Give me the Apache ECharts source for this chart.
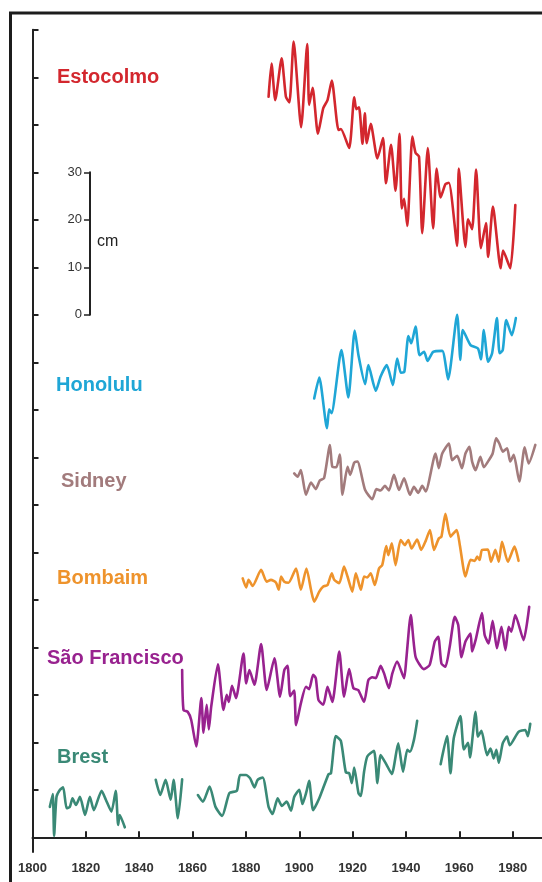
<!DOCTYPE html>
<html>
<head>
<meta charset="utf-8">
<script src="https://cdn.jsdelivr.net/npm/echarts@6/dist/echarts.min.js"></script>
<style>
html,body{margin:0;padding:0;background:#fff;}
#chart{width:542px;height:882px;}
</style>
</head>
<body>
<div id="chart"></div>
<script>
// Year tick labels on the bottom axis
const yearTicks = [1800, 1820, 1840, 1860, 1880, 1900, 1920, 1940, 1960, 1980];
// Vertical ticks (cm, stacked-offset scale) and scale bar ticks
const levelTicks = [0,10,20,30,40,50,60,70,80,90,100,110,120,130,140,150,160,170];
const scaleTicks = [0, 10, 20, 30];

// Station names
const stations = ['Estocolmo', 'Honolulu', 'Sidney', 'Bombaim', 'São Francisco', 'Brest'];

// Series values: [year, level (cm, offset per station)]
const estocolmo = [[1888.5,155.9],[1889.6,162.9],[1891.0,155.2],[1893.4,164.0],[1895.0,155.9],[1896.3,154.7],[1897.9,167.5],[1900.7,149.5],[1903.0,167.0],[1903.7,154.2],[1905.0,157.8],[1907.0,148.1],[1909.0,153.5],[1910.6,155.2],[1912.2,159.3],[1914.7,148.9],[1915.6,149.1],[1918.7,145.1],[1920.6,155.8],[1921.4,153.3],[1922.4,153.7],[1923.7,146.0],[1924.6,152.4],[1925.3,146.1],[1926.8,150.2],[1929.3,142.9],[1931.4,147.2],[1932.5,137.7],[1934.4,145.8],[1936.1,136.1],[1937.6,148.1],[1938.4,132.4],[1939.3,134.4],[1940.5,128.7],[1942.4,147.5],[1943.6,144.1],[1944.9,143.3],[1946.1,127.2],[1948.2,145.1],[1950.2,128.2],[1951.5,140.8],[1953.0,134.7],[1954.8,137.5],[1956.1,137.8],[1959.2,124.5],[1959.8,140.8],[1962.3,124.3],[1963.3,130.1],[1964.8,128.0],[1966.3,140.6],[1968.1,124.0],[1970.0,129.3],[1970.8,122.2],[1972.6,132.8],[1975.5,119.8],[1976.4,123.5],[1979.1,119.8],[1981.0,133.1]];

const honolulu = [[1905.6,92.4],[1907.5,96.8],[1910.4,86.1],[1911.2,90.1],[1912.1,89.3],[1915.8,102.6],[1918.4,92.6],[1920.8,106.7],[1922.2,101.5],[1924.7,95.4],[1925.9,99.4],[1928.7,94.0],[1930.5,97.0],[1932.8,99.4],[1935.1,95.2],[1936.7,100.8],[1938.1,97.8],[1939.4,98.0],[1940.9,105.5],[1942.0,104.0],[1943.6,107.5],[1945.1,101.5],[1946.8,102.2],[1948.1,100.3],[1950.2,102.2],[1953.6,102.4],[1955.8,96.4],[1959.2,110.0],[1960.4,100.5],[1961.3,106.8],[1964.2,103.6],[1967.0,102.9],[1968.1,100.6],[1969.2,106.8],[1970.8,100.1],[1972.3,101.9],[1974.1,109.3],[1975.1,101.9],[1976.3,102.6],[1977.6,108.9],[1979.7,105.7],[1981.2,109.3]];

const sidney = [[1898.1,76.6],[1899.4,75.9],[1900.6,77.3],[1902.5,72.1],[1904.4,74.7],[1906.2,73.3],[1907.7,75.1],[1909.3,75.6],[1911.5,82.6],[1912.4,78.0],[1913.9,77.9],[1915.2,80.6],[1916.2,72.1],[1918.1,78.0],[1919.1,76.3],[1920.6,78.9],[1921.8,79.1],[1924.7,73.1],[1927.4,71.2],[1928.9,73.3],[1930.5,73.0],[1932.1,74.0],[1933.6,73.0],[1935.5,76.3],[1937.4,73.1],[1939.3,75.6],[1941.5,72.1],[1943.0,73.8],[1944.6,72.5],[1946.1,74.0],[1947.4,72.8],[1951.1,80.8],[1952.3,77.7],[1953.6,80.8],[1956.1,82.9],[1957.3,79.4],[1959.2,80.3],[1961.0,77.7],[1962.3,80.8],[1963.8,82.2],[1964.8,79.1],[1966.1,77.3],[1967.9,80.1],[1969.2,77.9],[1971.3,79.6],[1972.5,80.8],[1973.8,84.0],[1975.0,82.9],[1976.3,81.2],[1977.9,81.9],[1979.1,79.1],[1980.4,80.5],[1982.5,74.9],[1984.5,82.1],[1986.0,78.7],[1988.5,82.6]];

const bombaim = [[1878.8,54.5],[1880.1,52.6],[1881.0,54.2],[1882.5,52.9],[1885.7,56.3],[1887.8,53.8],[1889.4,54.2],[1891.3,53.6],[1892.3,52.1],[1893.2,54.9],[1894.4,53.8],[1896.0,53.6],[1898.8,56.6],[1900.6,52.1],[1902.7,56.6],[1904.4,52.1],[1905.6,49.6],[1907.5,51.7],[1909.0,52.8],[1910.6,53.1],[1912.2,55.6],[1913.1,54.2],[1915.0,53.5],[1916.8,57.0],[1918.1,54.9],[1919.9,51.7],[1921.2,55.6],[1923.1,52.1],[1924.3,54.9],[1925.5,54.7],[1926.8,55.6],[1928.3,53.1],[1929.9,56.6],[1931.1,57.3],[1932.6,61.3],[1933.4,59.4],[1934.7,61.9],[1936.1,57.3],[1938.0,62.6],[1939.6,61.5],[1940.9,62.6],[1942.1,60.8],[1944.2,62.7],[1945.7,60.5],[1947.4,62.4],[1949.0,64.7],[1950.5,60.5],[1952.3,62.9],[1953.3,63.3],[1954.8,68.1],[1956.7,63.3],[1959.0,64.7],[1960.2,61.5],[1962.3,54.9],[1964.2,58.4],[1965.8,58.2],[1966.7,59.1],[1967.6,58.4],[1968.5,60.5],[1970.7,60.6],[1971.9,58.0],[1973.5,60.5],[1974.8,58.0],[1976.0,62.2],[1978.2,58.0],[1980.7,61.2],[1982.2,58.2]];

const saoFrancisco = [[1856.1,35.2],[1856.6,26.8],[1858.2,26.4],[1859.5,24.7],[1861.4,19.1],[1863.3,29.3],[1864.1,22.0],[1865.3,27.9],[1866.1,22.7],[1867.0,27.5],[1869.5,36.4],[1871.6,26.8],[1872.8,30.0],[1873.6,28.5],[1874.8,31.9],[1876.3,29.3],[1879.1,38.7],[1880.1,32.4],[1881.3,35.2],[1883.2,32.1],[1885.7,40.7],[1887.8,31.0],[1890.7,37.7],[1892.8,29.6],[1894.4,35.2],[1895.6,36.1],[1896.6,29.7],[1898.1,30.9],[1898.8,23.6],[1900.6,28.2],[1902.5,31.7],[1903.7,31.2],[1905.2,34.2],[1906.2,33.5],[1907.2,28.9],[1909.0,27.9],[1910.6,31.7],[1912.4,28.5],[1915.0,39.1],[1916.8,29.6],[1918.7,35.4],[1920.3,31.4],[1922.1,31.0],[1924.3,28.5],[1925.9,33.1],[1927.4,33.7],[1928.7,33.5],[1930.5,36.1],[1931.8,34.5],[1933.6,31.4],[1934.9,34.5],[1936.7,37.0],[1939.3,33.5],[1940.1,37.3],[1941.8,46.8],[1943.6,38.0],[1946.7,35.4],[1948.9,36.3],[1950.8,41.2],[1952.1,42.2],[1953.3,36.6],[1954.8,35.9],[1956.4,40.1],[1958.3,46.4],[1959.6,44.7],[1960.8,37.9],[1962.3,41.2],[1964.2,42.9],[1964.8,39.1],[1966.1,41.5],[1968.5,47.2],[1969.5,42.6],[1971.0,40.8],[1972.5,45.6],[1974.1,39.8],[1975.8,44.3],[1977.3,39.4],[1978.5,44.3],[1979.5,43.3],[1981.0,46.8],[1984.1,41.5],[1986.2,48.5]];

const brestA = [[1806.5,6.4],[1807.6,9.1],[1808.1,0.3],[1809.0,8.5],[1810.3,10.0],[1811.5,10.5],[1812.8,6.1],[1814.0,6.4],[1815.0,8.2],[1816.3,6.8],[1817.8,8.5],[1819.7,4.7],[1821.5,8.5],[1823.0,5.7],[1825.9,9.8],[1827.5,7.9],[1829.6,5.4],[1831.2,9.8],[1832.1,2.6],[1832.7,4.7],[1834.6,2.1]];
const brestB = [[1846.2,12.1],[1847.9,8.9],[1849.9,12.1],[1851.8,7.9],[1852.9,12.1],[1854.5,4.0],[1856.1,12.2]];
const brestC = [[1862.0,8.9],[1863.9,7.5],[1866.4,10.7],[1868.6,6.4],[1871.1,4.5],[1873.8,9.3],[1876.6,9.8],[1877.8,13.1],[1880.1,13.1],[1881.6,12.4],[1883.2,10.5],[1884.4,12.1],[1886.3,12.6],[1888.5,6.4],[1890.0,4.9],[1891.9,8.2],[1893.5,6.6],[1895.3,7.5],[1896.9,5.6],[1898.1,8.5],[1900.0,10.0],[1901.2,7.0],[1902.7,9.6],[1903.7,11.9],[1905.2,5.7],[1907.5,8.2],[1911.0,13.3],[1911.9,13.5],[1913.7,21.3],[1915.6,20.3],[1917.5,13.6],[1918.7,13.5],[1919.7,11.4],[1920.6,14.7],[1922.2,9.3],[1923.1,8.7],[1924.3,13.8],[1925.5,17.0],[1928.0,18.2],[1929.3,11.4],[1930.5,17.3],[1932.6,15.4],[1934.7,13.3],[1937.1,19.8],[1938.9,13.8],[1940.5,18.4],[1941.5,18.0],[1943.0,20.5],[1944.2,24.5]];
const brestD = [[1953.0,15.4],[1955.4,21.3],[1956.7,13.5],[1957.9,20.8],[1960.4,25.5],[1961.7,18.5],[1963.3,19.9],[1964.0,16.8],[1966.1,26.4],[1967.0,21.2],[1968.3,22.4],[1970.4,17.3],[1971.7,18.7],[1972.9,16.6],[1973.9,18.4],[1974.8,15.7],[1976.3,19.8],[1977.9,21.2],[1978.9,19.4],[1982.2,22.2],[1984.7,22.6],[1985.7,21.3],[1986.6,23.9]];

const colors = {
  'Estocolmo': '#d3272e',
  'Honolulu': '#1fa6d6',
  'Sidney': '#a27b7c',
  'Bombaim': '#ee932c',
  'São Francisco': '#98228f',
  'Brest': '#3a8976'
};

const chart = echarts.init(document.getElementById('chart'), null, {renderer: 'canvas'});

function lineSeries(name, data) {
  return {
    name: name, type: 'line', data: data, xAxisIndex: 0, yAxisIndex: 0,
    showSymbol: false, symbol: 'none', smooth: 0.2, animation: false,
    lineStyle: {color: colors[name], width: 2.6, join: 'round', cap: 'round'},
    itemStyle: {color: colors[name]}
  };
}

const series = [
  lineSeries('Estocolmo', estocolmo),
  lineSeries('Honolulu', honolulu),
  lineSeries('Sidney', sidney),
  lineSeries('Bombaim', bombaim),
  lineSeries('São Francisco', saoFrancisco),
  lineSeries('Brest', brestA),
  lineSeries('Brest', brestB),
  lineSeries('Brest', brestC),
  lineSeries('Brest', brestD)
];

const labelPos = {
  'Estocolmo': [57, 77],
  'Honolulu': [56, 385],
  'Sidney': [61, 481],
  'Bombaim': [57, 578],
  'São Francisco': [47, 658],
  'Brest': [57, 757]
};

const graphics = [
  {type: 'rect', silent: true, z: 100,
   shape: {x: 10.5, y: 13, width: 800, height: 1000},
   style: {fill: 'none', stroke: '#1c1c1c', lineWidth: 3}},
  {type: 'text', x: 97, y: 242, z: 100,
   style: {text: 'cm', font: '16px "Liberation Sans", Arial, sans-serif', fill: '#222', verticalAlign: 'middle'}}
];
stations.forEach(function (s) {
  graphics.push({type: 'text', x: labelPos[s][0], y: labelPos[s][1], z: 100,
    style: {text: s, font: 'bold 20px "Liberation Sans", Arial, sans-serif', fill: colors[s], verticalAlign: 'middle'}});
});

const option = {
  backgroundColor: '#ffffff',
  animation: false,
  grid: [
    {left: 32.5, top: 29.8, bottom: 30, width: 511, containLabel: false},
    {left: 90, top: 172.3, height: 142.5, width: 2, containLabel: false}
  ],
  xAxis: [
    {type: 'value', gridIndex: 0, min: 1800, max: 1991,
     axisLine: {show: true, lineStyle: {color: '#222', width: 2}},
     axisTick: {show: true, inside: true, length: 6, lineStyle: {color: '#222', width: 2}, customValues: yearTicks},
     axisLabel: {show: true, margin: 10, color: '#333', fontSize: 13, fontWeight: 'bold',
       fontFamily: '"Liberation Sans", Arial, sans-serif', customValues: yearTicks, hideOverlap: false,
       formatter: function (v) { return String(v); }},
     splitLine: {show: false}},
    {type: 'value', gridIndex: 1, min: 0, max: 1, show: false}
  ],
  yAxis: [
    {type: 'value', gridIndex: 0, min: -3.1, max: 170,
     axisLine: {show: true, lineStyle: {color: '#222', width: 2}},
     axisTick: {show: true, inside: true, length: 6, lineStyle: {color: '#222', width: 2}, customValues: levelTicks},
     axisLabel: {show: false},
     splitLine: {show: false}},
    {type: 'value', gridIndex: 1, min: 0, max: 30, interval: 10, position: 'left',
     axisLine: {show: true, lineStyle: {color: '#222', width: 2}},
     axisTick: {show: true, inside: false, length: 6, lineStyle: {color: '#222', width: 1.5}, customValues: scaleTicks},
     axisLabel: {show: true, margin: 8, color: '#333', fontSize: 13,
       fontFamily: '"Liberation Sans", Arial, sans-serif', customValues: scaleTicks},
     splitLine: {show: false}}
  ],
  graphic: graphics,
  series: series
};
chart.setOption(option);
</script>
</body>
</html>
